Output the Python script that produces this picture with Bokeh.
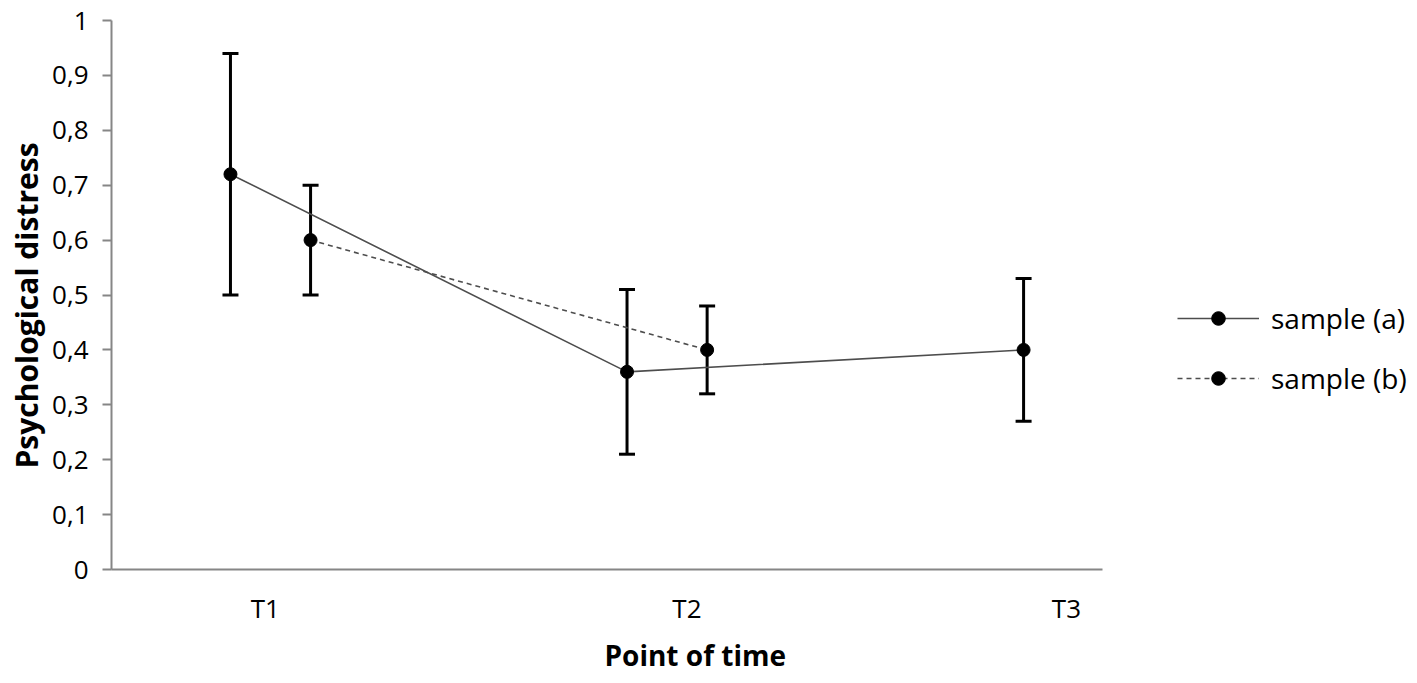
from bokeh.plotting import figure
from bokeh.models import (ColumnDataSource, Whisker, TeeHead, Legend, LegendItem,
                          FixedTicker, CustomJSTickFormatter, Range1d, Title)
from bokeh.embed import file_html
from bokeh.resources import INLINE

# ---- data ----
time_points = ["T1", "T2", "T3"]
a_mean = [0.72, 0.36, 0.40]
a_lower = [0.50, 0.21, 0.27]
a_upper = [0.94, 0.51, 0.53]
b_mean = [0.60, 0.40]
b_lower = [0.50, 0.32]
b_upper = [0.70, 0.48]
y_ticks = [0, 0.1, 0.2, 0.3, 0.4, 0.5, 0.6, 0.7, 0.8, 0.9, 1.0]

# ---- layout helpers (styling) ----
b_offset = 0.202
label_offsets = [0.088, 0.151, 0.108]
idx = [i + 1 for i in range(len(time_points))]
xa = idx
xb = [i + b_offset for i in idx[:len(b_mean)]]
tick_pos = [i + o for i, o in zip(idx, label_offsets)]

FONT = "Open Sans"
AXIS_COLOR = "#868686"
LINE_COLOR = "#4d4d4d"

p = figure(frame_width=991, frame_height=549, output_backend="svg", toolbar_location=None,
           x_range=Range1d(0.700, 3.199), y_range=Range1d(0, 1),
           min_border_left=100, min_border_right=290, min_border_top=20,
           min_border_bottom=96)
p.outline_line_color = None
p.grid.visible = False
p.background_fill_color = "white"
p.border_fill_color = "white"

src_a = ColumnDataSource(dict(x=xa, y=a_mean, lower=a_lower, upper=a_upper))
src_b = ColumnDataSource(dict(x=xb, y=b_mean, lower=b_lower, upper=b_upper))

for src in (src_a, src_b):
    w = Whisker(base="x", lower="lower", upper="upper", source=src,
                line_color="black", line_width=3,
                upper_head=TeeHead(size=16, line_color="black", line_width=3),
                lower_head=TeeHead(size=16, line_color="black", line_width=3))
    p.add_layout(w)

la = p.line("x", "y", source=src_a, line_color=LINE_COLOR, line_width=1.6)
sa = p.scatter("x", "y", source=src_a, size=13, fill_color="black", line_color="black")
lb = p.line("x", "y", source=src_b, line_color=LINE_COLOR, line_width=1.6, line_dash="5 4")
sb = p.scatter("x", "y", source=src_b, size=13, fill_color="black", line_color="black")

# y axis
yax = p.yaxis[0]
yax.ticker = FixedTicker(ticks=y_ticks)
yax.formatter = CustomJSTickFormatter(code="return (Math.round(tick*10)/10).toString().replace('.', ',');")
yax.axis_line_color = AXIS_COLOR
yax.axis_line_width = 2
yax.major_tick_line_color = AXIS_COLOR
yax.major_tick_line_width = 2
yax.major_tick_out = 9
yax.major_tick_in = 0
yax.minor_tick_out = 0
yax.minor_tick_in = 0
yax.major_label_text_font = FONT
yax.major_label_text_font_size = "26px"
yax.major_label_text_color = "black"
yax.major_label_standoff = 14

yt = Title(text="Psychological distress", align="left", offset=101,
           text_font=FONT, text_font_style="bold", text_font_size="30px",
           text_color="black", standoff=6)
p.add_layout(yt, "left")

# x axis
xax = p.xaxis[0]
xax.ticker = FixedTicker(ticks=tick_pos)
xax.major_label_overrides = {t: lab for t, lab in zip(tick_pos, time_points)}
xax.axis_line_color = AXIS_COLOR
xax.axis_line_width = 2
xax.major_tick_out = 0
xax.major_tick_in = 0
xax.minor_tick_out = 0
xax.minor_tick_in = 0
xax.major_label_text_font = FONT
xax.major_label_text_font_size = "26px"
xax.major_label_text_color = "black"
xax.major_label_standoff = 20

xt = Title(text="Point of time", align="left", offset=493,
           text_font=FONT, text_font_style="bold", text_font_size="28px",
           text_color="black", standoff=10)
p.add_layout(xt, "below")

legend = Legend(items=[LegendItem(label="sample (a)", renderers=[la, sa]),
                       LegendItem(label="sample (b)", renderers=[lb, sb])],
                location=(75, 172), glyph_width=82, glyph_height=34, spacing=22,
                label_standoff=12, label_text_font=FONT, label_text_font_size="28px",
                label_text_color="black", padding=0, margin=0,
                border_line_alpha=0, background_fill_alpha=0)
p.add_layout(legend, "right")

open("out.html", "w").write(file_html(p, INLINE))
